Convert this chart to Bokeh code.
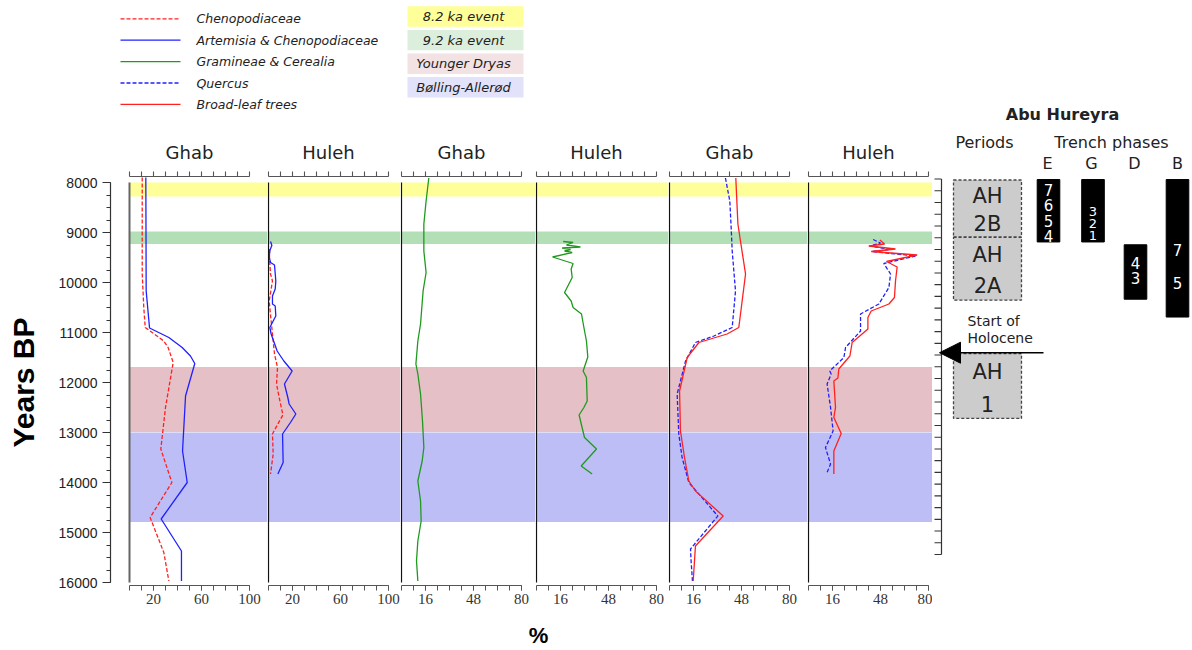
import math
from bokeh.plotting import figure
from bokeh.layouts import row, column
from bokeh.models import LinearAxis, FixedTicker, Range1d, Arrow, NormalHead
from bokeh.embed import file_html
from bokeh.resources import INLINE
from bokeh.core.properties import value

# ---------------- data (ages in years BP, values in %) ----------------
ghab_cheno_age = [7900, 9830, 10500, 10900, 11170, 11300, 11600, 12500, 13330, 14000, 14700, 15400, 15970]
ghab_cheno_val = [10.6, 10.6, 11.9, 13.1, 28.6, 32.2, 36.4, 30.0, 26.1, 35.3, 17.2, 28.6, 32.8]

ghab_artcheno_age = [7900, 10170, 10910, 11100, 11300, 11470, 11620, 12270, 13370, 14000, 14730, 15370, 15970]
ghab_artcheno_val = [13.6, 13.9, 16.7, 32.8, 43.9, 50.8, 54.4, 46.7, 44.2, 48.1, 26.4, 43.3, 43.3]

huleh_cheno_age = [9330, 9500, 9830, 9970, 10130, 10370, 10500, 10770, 11030, 11430, 11700, 12030, 12300,
                   12650, 12830, 13030, 13430, 13830]
huleh_cheno_val = [1.0, 0.8, 1.7, 3.3, 2.2, 0.6, 1.1, 2.2, 3.3, 5.0, 7.5, 6.7, 8.9, 12.0, 7.8, 3.3, 3.9, 1.7]

huleh_artcheno_age = [9180, 9260, 9360, 9500, 9600, 9650, 9970, 10130, 10270, 10430, 10470, 10670, 10770,
                      10900, 11030, 11370, 11570, 11770, 12030, 12300, 12430, 12630, 12800, 13030, 13600, 13830]
huleh_artcheno_val = [1.7, 2.8, 1.1, 0.6, 1.7, 5.0, 6.1, 5.6, 3.3, 3.3, 5.6, 6.1, 3.9, 1.1, 2.2, 7.2, 12.8,
                      19.7, 13.3, 16.1, 17.2, 22.8, 18.3, 11.7, 12.2, 7.8]

ghab_gram_age = [7910, 8370, 8830, 9370, 9800, 10170, 10830, 11170, 11630, 11830, 12230, 12770, 13300, 13570,
                 13970, 14370, 14770, 15170, 15570, 15970]
ghab_gram_val = [18.2, 16.4, 14.9, 14.9, 16.4, 14.4, 12.7, 10.9, 9.6, 10.9, 12.7, 14.0, 14.9, 13.8, 10.9,
                 12.7, 13.1, 10.9, 10.0, 10.9]

huleh_gram_age = [9180, 9200, 9250, 9290, 9310, 9340, 9370, 9400, 9490, 9620, 9730, 9900, 10200, 10370, 10500,
                  10630, 10900, 11170, 11490, 11770, 11900, 12370, 12500, 12650, 12900, 13100, 13330, 13670, 13830]
huleh_gram_val = [17.8, 24.4, 20.0, 29.3, 17.1, 22.7, 18.7, 23.8, 10.7, 24.4, 23.1, 23.8, 18.7, 23.1, 24.4,
                  30.0, 31.6, 33.3, 34.2, 31.1, 33.3, 33.8, 31.6, 28.4, 30.4, 32.0, 40.0, 29.8, 37.1]

ghab_quercus_age = [7910, 8370, 8900, 9370, 10170, 10900, 11070, 11200, 11570, 12230, 13030, 13500, 14000,
                    14670, 15330, 15570, 15970]
ghab_quercus_val = [37.3, 40.2, 41.1, 41.8, 44.0, 41.8, 29.6, 17.3, 10.7, 5.1, 6.2, 8.4, 12.9, 32.2, 14.0,
                    14.4, 15.3]

ghab_broadleaf_age = [7910, 8830, 9170, 9830, 10900, 11030, 11200, 11500, 12170, 12970, 13500, 13970, 14170,
                      14670, 15270, 15970]
ghab_broadleaf_val = [44.2, 45.6, 47.3, 50.7, 46.2, 38.4, 19.6, 11.8, 6.7, 7.3, 10.0, 12.9, 17.3, 35.8, 17.3, 15.8]

huleh_quercus_age = [9140, 9210, 9270, 9340, 9380, 9470, 9620, 9830, 10100, 10430, 10630, 10970, 11300, 11500,
                     11770, 11830, 12030, 12500, 12970, 13300, 13630, 13830]
huleh_quercus_val = [43.1, 48.0, 40.9, 54.7, 42.4, 71.3, 50.2, 54.7, 53.6, 46.9, 34.7, 34.7, 24.7, 23.6, 14.2,
                     15.1, 12.4, 14.7, 16.4, 11.3, 14.7, 12.0]

huleh_broadleaf_age = [9150, 9230, 9270, 9330, 9380, 9450, 9580, 9690, 9970, 10300, 10430, 10570, 10700, 10930,
                       11200, 11470, 11730, 11910, 11970, 12500, 12700, 13020, 13370, 13830]
huleh_broadleaf_val = [47.6, 50.7, 40.2, 58.0, 41.8, 72.4, 52.0, 59.1, 58.0, 57.3, 53.6, 41.8, 39.6, 39.6,
                       29.1, 27.6, 20.2, 19.6, 16.9, 18.0, 16.9, 21.8, 16.9, 16.9]

series_names = ["Chenopodiaceae", "Artemisia & Chenopodiaceae", "Gramineae & Cerealia", "Quercus",
                "Broad-leaf trees"]
series_colors = ["#ff2020", "#2020ff", "#1f9a1f", "#2020ff", "#ff2020"]
series_dash = ["4 2", "solid", "solid", "4 2", "solid"]

event_labels = ["8.2 ka event", "9.2 ka event", "Younger Dryas", "Bølling-Allerød"]
event_start = [8000, 8980, 11690, 13000]
event_end = [8280, 9230, 12990, 14790]
event_band_colors = ["#ffff99", "#b2dfb5", "#e5c0c6", "#bebef7"]
event_key_colors = ["#ffff99", "#dcefdd", "#f2e2e4", "#e2e2fa"]

site_names = ["Ghab", "Huleh", "Ghab", "Huleh", "Ghab", "Huleh"]
panel_xmax = [100, 100, 80, 80, 80, 80]
panel_tick_step = [10, 10, 8, 8, 8, 8]
panel_tick_labels = [[20, 60, 100], [20, 60, 100], [16, 48, 80], [16, 48, 80], [16, 48, 80], [16, 48, 80]]

age_ticks = list(range(8000, 16001, 1000))
age_minor_ticks = list(range(8000, 16001, 250))
age_min, age_max = 8000, 16000

period_line1 = ["AH", "AH", "AH"]
period_line2 = ["2B", "2A", "1"]
period_start = [8020, 9240, 11720]
period_end = [9240, 10580, 13100]

trench_names = ["E", "G", "D", "B"]
trench_start = [8010, 8010, 9400, 8010]
trench_end = [9340, 9340, 10560, 10940]
trench_phase_labels = [["7", "6", "5", "4"], ["3", "2", "1"], ["4", "3"], ["7", "5"]]
trench_phase_ages = [[8230, 8560, 8890, 9205], [8690, 8950, 9205], [9795, 10115], [9515, 10225]]

holocene_start = 11700

# ---------------- layout constants (page pixels) ----------------
FONT = "DejaVu Sans"
NUM_FONT = "Liberation Sans"
NARROW_FONT = "Liberation Sans Narrow"
TXT = "#222222"
YR_PER_PX = 20.0
Y8000_PX = 182            # page row of 8000 BP
PANEL_PX = 120            # pixel length of each panel's percentage axis
TOP_H = 126
PANEL_Y0 = TOP_H          # page row where the panel row begins
AXIS_BOTTOM_PX = 585
PANEL_BOT = 30
BOTTOM_H = 34
TOP_AXIS_PX = 176
TICK_PX = 5
TOTAL_W = 1190
LABEL_W = 45
FRAME_W = [157, 133, 135, 133, 139, 125]
ZERO_OFF = [19, 1, 1, 1, 1, 1]
LEFT_BORDER = 110 - LABEL_W
RIGHT_AX_PAD = 9
RIGHT_W = TOTAL_W - LABEL_W - LEFT_BORDER - sum(FRAME_W)


def age_at(py):
    return age_min + (py - Y8000_PX) * YR_PER_PX


FRAME_H = AXIS_BOTTOM_PX - PANEL_Y0
y_rng = Range1d(age_at(AXIS_BOTTOM_PX), age_at(PANEL_Y0))
top_axis_age = age_at(TOP_AXIS_PX)
top_tick_age = age_at(TOP_AXIS_PX - TICK_PX)
title_age = age_at(152)

panel_series = [
    [(ghab_cheno_age, ghab_cheno_val, 0), (ghab_artcheno_age, ghab_artcheno_val, 1)],
    [(huleh_cheno_age, huleh_cheno_val, 0), (huleh_artcheno_age, huleh_artcheno_val, 1)],
    [(ghab_gram_age, ghab_gram_val, 2)],
    [(huleh_gram_age, huleh_gram_val, 2)],
    [(ghab_quercus_age, ghab_quercus_val, 3), (ghab_broadleaf_age, ghab_broadleaf_val, 4)],
    [(huleh_quercus_age, huleh_quercus_val, 3), (huleh_broadleaf_age, huleh_broadleaf_val, 4)],
]


def style_fig(p):
    p.outline_line_color = None
    p.background_fill_color = "white"
    p.border_fill_color = "white"


# ---------------- y-axis title column ----------------
lp = figure(width=LABEL_W, height=FRAME_H + PANEL_BOT, x_range=Range1d(0, LABEL_W), y_range=y_rng,
            x_axis_type=None, y_axis_type=None, toolbar_location=None, output_backend="svg", title=None,
            min_border_left=0, min_border_right=0, min_border_top=0, min_border_bottom=PANEL_BOT)
style_fig(lp)
lp.text(x=[23], y=[(age_min + age_max) / 2], text=["Years BP"], angle=math.pi / 2, text_align="center",
        text_baseline="middle", text_font=value(NUM_FONT), text_font_style="bold", text_font_size="30px",
        text_color="black")

panels = []
for i in range(6):
    xmax = panel_xmax[i]
    sc = PANEL_PX / xmax
    lb = LEFT_BORDER if i == 0 else 0
    fw = FRAME_W[i]
    off = ZERO_OFF[i]
    xr = Range1d(-off / sc, (fw - off) / sc)
    p = figure(width=fw + lb, height=FRAME_H + PANEL_BOT, x_range=xr, y_range=y_rng,
               x_axis_type=None, y_axis_type=None, toolbar_location=None, output_backend="svg",
               title=None, min_border_left=lb, min_border_right=0, min_border_top=0,
               min_border_bottom=PANEL_BOT)
    style_fig(p)

    band_left = 0 if i == 0 else xr.start
    p.quad(left=band_left, right=xr.end, top=event_start, bottom=event_end,
           fill_color=event_band_colors, line_color=None)
    for ages, vals, k in panel_series[i]:
        p.line(vals, ages, line_color=series_colors[k], line_dash=series_dash[k], line_width=1.3)
    p.segment(x0=[0], y0=[age_min], x1=[0], y1=[age_max],
              line_color="#666666" if i == 0 else "#111111", line_width=2 if i == 0 else 1.2)

    all_ticks = list(range(0, xmax + 1, panel_tick_step[i]))
    # top scale: axis line with plain tick marks
    p.segment(x0=[0], y0=[top_axis_age], x1=[xmax], y1=[top_axis_age], line_color="#555555", line_width=1.2)
    p.segment(x0=all_ticks, y0=[top_axis_age] * len(all_ticks), x1=all_ticks,
              y1=[top_tick_age] * len(all_ticks), line_color="#555555", line_width=1.1)
    p.text(x=[xmax / 2], y=[title_age], text=[site_names[i]], text_align="center", text_baseline="middle",
           text_font=value(FONT), text_font_size="18px", text_color=TXT)

    bot_ax = LinearAxis(bounds=(0, xmax),
                        ticker=FixedTicker(ticks=panel_tick_labels[i], minor_ticks=all_ticks),
                        major_tick_out=TICK_PX, major_tick_in=0, minor_tick_out=TICK_PX, minor_tick_in=0,
                        major_label_text_font=NARROW_FONT, major_label_text_font_size="15px",
                        major_label_text_color="#333333", major_label_standoff=3,
                        axis_line_color="#555555", major_tick_line_color="#555555",
                        minor_tick_line_color="#555555", axis_line_width=1.2)
    p.add_layout(bot_ax, "below")

    if i == 0:
        yax = LinearAxis(bounds=(age_min, age_max),
                         ticker=FixedTicker(ticks=age_ticks, minor_ticks=age_minor_ticks),
                         major_tick_out=8, major_tick_in=0, minor_tick_out=4, minor_tick_in=0,
                         major_label_text_font=NUM_FONT, major_label_text_font_size="14px",
                         major_label_text_color=TXT, major_label_standoff=5,
                         axis_line_color="#333333", major_tick_line_color="#333333",
                         minor_tick_line_color="#333333", axis_line_width=1.2)
        p.add_layout(yax, "left")
    panels.append(p)

# ---------------- right-hand Abu Hureyra column ----------------
right_h = FRAME_H + PANEL_BOT
rp = figure(width=RIGHT_W, height=right_h,
            x_range=Range1d(-RIGHT_AX_PAD, RIGHT_W - RIGHT_AX_PAD),
            y_range=Range1d(age_at(PANEL_Y0 + right_h), age_at(PANEL_Y0)),
            x_axis_type=None, y_axis_type=None, toolbar_location=None, output_backend="svg", title=None,
            min_border=0)
style_fig(rp)
# age scale: axis line with tick marks every 250 years
rp.segment(x0=[0], y0=[age_min], x1=[0], y1=[age_max], line_color="#333333", line_width=1.2)
rp.segment(x0=[-7] * len(age_minor_ticks), y0=age_minor_ticks, x1=[0] * len(age_minor_ticks),
           y1=age_minor_ticks, line_color="#333333", line_width=1.1)

PER_L, PER_R = 12, 80
per_cx = (PER_L + PER_R) / 2
rp.quad(left=PER_L, right=PER_R, top=period_start, bottom=period_end, fill_color="#cccccc",
        line_color="#444444", line_dash="3 2", line_width=1.3)
rp.text(x=[per_cx] * 3, y=[s + 0.28 * (e - s) for s, e in zip(period_start, period_end)], text=period_line1,
        text_align="center", text_baseline="middle", text_font=value(FONT), text_font_size="21px",
        text_color=TXT)
rp.text(x=[per_cx] * 3, y=[s + 0.77 * (e - s) for s, e in zip(period_start, period_end)], text=period_line2,
        text_align="center", text_baseline="middle", text_font=value(FONT), text_font_size="21px",
        text_color=TXT)

trench_cx = [107, 151.5, 194, 236]
TR_HW = 11.3
rp.quad(left=[c - TR_HW for c in trench_cx], right=[c + TR_HW for c in trench_cx], top=trench_start,
        bottom=trench_end, fill_color="black", line_color="black")
for k, c in enumerate(trench_cx):
    rp.text(x=[c] * len(trench_phase_labels[k]), y=trench_phase_ages[k], text=trench_phase_labels[k],
            text_align="center", text_baseline="middle", text_font=value(FONT),
            text_font_size="15px" if k != 1 else "13px", text_color="white")

rp.text(x=[43, 170], y=[age_at(143)] * 2, text=["Periods", "Trench phases"], text_align="center",
        text_baseline="middle", text_font=value(FONT), text_font_size="16px", text_color=TXT)
rp.text(x=[106, 150, 193, 236], y=[age_at(165)] * 4, text=trench_names, text_align="center",
        text_baseline="middle", text_font=value(FONT), text_font_size="16px", text_color=TXT)

rp.text(x=[26, 26], y=[age_at(333), age_at(351)], text=["Start of", "Holocene"], text_align="left",
        text_baseline="middle", text_font=value(FONT), text_font_size="14px", text_color=TXT)
rp.add_layout(Arrow(end=NormalHead(size=21, fill_color="black", line_color="black"),
                    x_start=102, y_start=holocene_start, x_end=-2, y_end=holocene_start,
                    line_color="black", line_width=1.6))

# ---------------- top block: legend and title ----------------
tp = figure(width=TOTAL_W, height=TOP_H, x_range=Range1d(0, TOTAL_W), y_range=Range1d(TOP_H, 0),
            x_axis_type=None, y_axis_type=None, toolbar_location=None, output_backend="svg", title=None,
            min_border=0)
style_fig(tp)
LEG_X0, LEG_X1, LEG_TX = 120, 180, 196
leg_y = [18.3 + 21.4 * k for k in range(len(series_names))]
for k, name in enumerate(series_names):
    tp.line([LEG_X0, LEG_X1], [leg_y[k], leg_y[k]], line_color=series_colors[k], line_dash=series_dash[k],
            line_width=1.3)
tp.text(x=[LEG_TX] * len(series_names), y=leg_y, text=series_names, text_align="left", text_baseline="middle",
        text_font=value(FONT), text_font_style="italic", text_font_size="12.5px", text_color=TXT)

EV_L, EV_R = 407, 523
ev_y = [16.0 + 23.6 * k for k in range(len(event_labels))]
tp.quad(left=EV_L, right=EV_R, top=[y - 10.2 for y in ev_y], bottom=[y + 10.2 for y in ev_y],
        fill_color=event_key_colors, line_color=None)
tp.text(x=[(EV_L + EV_R) / 2 - 2] * len(event_labels), y=ev_y, text=event_labels, text_align="center",
        text_baseline="middle", text_font=value(FONT), text_font_style="italic", text_font_size="13px",
        text_color=TXT)

tp.text(x=[1062], y=[114], text=["Abu Hureyra"], text_align="center", text_baseline="middle",
        text_font=value(FONT), text_font_style="bold", text_font_size="16px", text_color=TXT)

# ---------------- bottom block: % label ----------------
bp = figure(width=TOTAL_W, height=BOTTOM_H, x_range=Range1d(0, TOTAL_W), y_range=Range1d(BOTTOM_H, 0),
            x_axis_type=None, y_axis_type=None, toolbar_location=None, output_backend="svg", title=None,
            min_border=0)
style_fig(bp)
bp.text(x=[538], y=[20], text=["%"], text_align="center", text_baseline="middle", text_font=value(NUM_FONT),
        text_font_style="bold", text_font_size="22px", text_color="black")

layout = column(tp, row(lp, *panels, rp), bp)
open("out.html", "w").write(file_html(layout, INLINE))
